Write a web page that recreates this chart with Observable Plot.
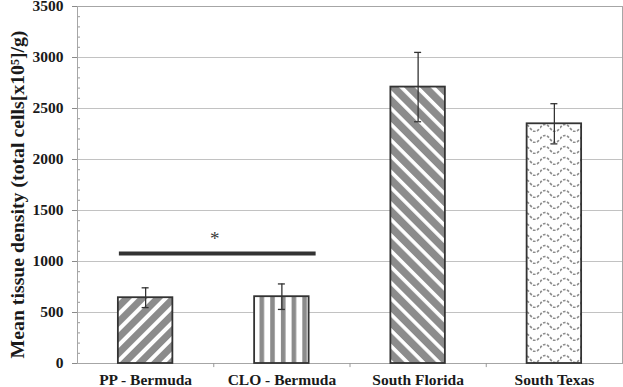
<!DOCTYPE html>
<html>
<head>
<meta charset="utf-8">
<script src="https://cdn.jsdelivr.net/npm/d3@7"></script>
<script src="https://cdn.jsdelivr.net/npm/@observablehq/plot@0.6"></script>
<style>
  html, body { margin: 0; padding: 0; background: #fff; }
</style>
</head>
<body>
<div id="chart"></div>
<script>
// ---- data ----
const categories = ["PP - Bermuda", "CLO - Bermuda", "South Florida", "South Texas"];
const means = [645, 655, 2710, 2350];
const errors = [97, 125, 340, 197];
const yTicks = [0, 500, 1000, 1500, 2000, 2500, 3000, 3500];
const yMinorTicks = d3.range(0, 3501, 100).filter(v => v % 500 !== 0);
const significance = [{from: "PP - Bermuda", to: "CLO - Bermuda", value: 1078, label: "*", labelValue: 1225}];
const yLabel = "Mean tissue density (total cells[x10\u2075]/g)";

const rows = categories.map((c, i) => ({category: c, mean: means[i], err: errors[i]}));

// ---- layout ----
const W = 623, H = 387;
const mL = 77, mR = 1, mT = 6, mB = 24;
const step = (W - mL - mR) / categories.length;
const bandwidth = step * 0.4;
const capW = 7;
const dark = "#333";
const txt = "#1a1a1a";

const svg = Plot.plot({
  width: W, height: H,
  marginLeft: mL, marginRight: mR, marginTop: mT, marginBottom: mB,
  x: {domain: categories, paddingInner: 0.6, paddingOuter: 0.3, axis: null, round: false},
  y: {domain: [0, 3500], axis: null},
  style: {fontFamily: "'Liberation Serif', 'Times New Roman', serif", fontWeight: "bold", fontSize: "15.5px", color: txt, background: "#fff", overflow: "visible"},
  marks: [
    Plot.gridY(yTicks, {stroke: "#c2c2c2", strokeOpacity: 1}),
    Plot.tickY(yMinorTicks, {y: d => d, stroke: "#9a9a9a", insetRight: W - mL - mR - 3}),
    Plot.frame({stroke: "#a6a6a6"}),
    ...rows.map((r, i) => Plot.barY([r], {x: "category", y: "mean", fill: `url(#pat${i})`, stroke: dark, strokeWidth: 1.8})),
    Plot.ruleX(rows, {x: "category", y1: d => d.mean - d.err, y2: d => d.mean + d.err, stroke: dark, strokeWidth: 1.3}),
    Plot.tickY(rows, {x: "category", y: d => d.mean + d.err, stroke: dark, strokeWidth: 1.3, inset: (bandwidth - capW) / 2}),
    Plot.tickY(rows, {x: "category", y: d => d.mean - d.err, stroke: dark, strokeWidth: 1.3, inset: (bandwidth - capW) / 2}),
    Plot.ruleY(significance, {x1: "from", x2: "to", y: "value", stroke: dark, strokeWidth: 4, insetLeft: 1, insetRight: -7}),
    Plot.text(significance, {x: "from", y: "labelValue", text: "label", dx: step / 2 + 1, fontWeight: "normal", fontSize: 19, fill: "#3a3a3a"}),
    Plot.ruleX(categories.slice(1), {x: d => d, dx: -step / 2, y1: 0, y2: -40, stroke: "#999"}),
    Plot.axisY(yTicks, {tickSize: 5, tickPadding: 9, stroke: "#8a8a8a", fill: txt, label: null, tickFormat: d => String(d)}),
    Plot.axisX({tickSize: 0, tickPadding: 10, label: null, fill: txt}),
    Plot.text([yLabel], {frameAnchor: "left", textAnchor: "middle", dx: -60, dy: 9.5, rotate: -90, text: d => d, fontSize: 19.8, fill: txt})
  ]
});

// ---- fill patterns ----
const defs = d3.select(svg).insert("defs", ":first-child");
const grey = "#8c8c8c";
function stripes(id, angle, period, band) {
  const p = defs.append("pattern").attr("id", id).attr("patternUnits", "userSpaceOnUse")
    .attr("width", period).attr("height", period).attr("patternTransform", `rotate(${angle})`);
  p.append("rect").attr("width", period).attr("height", period).attr("fill", "#fff");
  p.append("rect").attr("width", band).attr("height", period).attr("fill", grey);
}
stripes("pat0", 45, 11, 7);
// vertical stripes
{
  const p = defs.append("pattern").attr("id", "pat1").attr("patternUnits", "userSpaceOnUse")
    .attr("x", 259.5).attr("width", 10.7).attr("height", 10);
  p.append("rect").attr("width", 10.7).attr("height", 10).attr("fill", "#fff");
  p.append("rect").attr("width", 4.6).attr("height", 10).attr("fill", grey);
}
stripes("pat2", -45, 11.2, 7.6);
// wavy dashed lines
{
  const p = defs.append("pattern").attr("id", "pat3").attr("patternUnits", "userSpaceOnUse")
    .attr("width", 20).attr("height", 11);
  p.append("rect").attr("width", 20).attr("height", 11).attr("fill", "#fff");
  p.append("path").attr("d", "M0,7 Q5,0 10,7 T20,7").attr("fill", "none")
    .attr("stroke", grey).attr("stroke-width", 1.7).attr("stroke-dasharray", "2.6 1.6");
}

document.getElementById("chart").appendChild(svg);
</script>
</body>
</html>
